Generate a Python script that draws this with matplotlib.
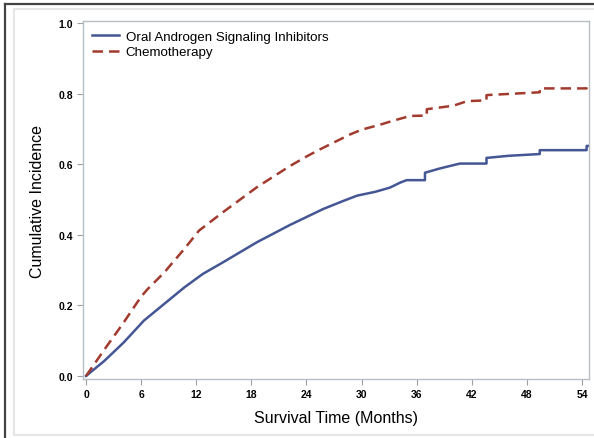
import matplotlib
matplotlib.use("Agg")
import matplotlib.pyplot as plt
from matplotlib.lines import Line2D

plt.rcParams['font.family'] = ['Liberation Sans', 'DejaVu Sans']

# Data
oasi_t = [0, 2.0, 4.1, 6.3, 8.5, 10.7, 12.7, 14.9, 18.6, 22.2, 25.8, 28.0, 29.5, 31.5, 33.1,
          34.2, 34.9, 36.9, 36.9, 38.5, 40.7, 43.6, 43.6, 46.0, 49.4, 49.4, 54.5, 54.5, 54.7]
oasi_v = [0, 0.043, 0.095, 0.157, 0.204, 0.251, 0.289, 0.322, 0.379, 0.428, 0.473, 0.496, 0.511, 0.522, 0.534,
          0.548, 0.555, 0.555, 0.576, 0.588, 0.602, 0.602, 0.618, 0.624, 0.629, 0.640, 0.640, 0.652, 0.652]

chemo_t = [0, 2.0, 4.0, 6.0, 6.7, 8.5, 10.7, 12.3, 14.9, 18.6, 22.2, 24.0, 25.3, 27.0, 28.7, 30.0,
           32.0, 33.5, 35.3, 37.1, 37.1, 40.0, 41.5, 43.6, 43.6, 46.5, 49.4, 49.4, 54.5, 54.5, 54.7]
chemo_v = [0, 0.075, 0.148, 0.225, 0.246, 0.293, 0.360, 0.412, 0.464, 0.535, 0.595, 0.622, 0.640, 0.662,
           0.684, 0.698, 0.712, 0.724, 0.737, 0.738, 0.756, 0.766, 0.779, 0.781, 0.796, 0.800, 0.804, 0.815,
           0.815, 0.824, 0.824]

series_labels = ["Oral Androgen Signaling Inhibitors", "Chemotherapy"]
x_ticks = [0, 6, 12, 18, 24, 30, 36, 42, 48, 54]
y_ticks = [0.0, 0.2, 0.4, 0.6, 0.8, 1.0]

blue = "#445694"
red = "#A23A2E"

fig = plt.figure(figsize=(5.94, 4.39), dpi=100)

# Outer frame decorations
W, H = 594, 439
def fx(px): return px / W
def fy(py): return 1 - py / H
fig.add_artist(Line2D([fx(5), 1], [fy(5), fy(5)], color="#444444", lw=1.6))
fig.add_artist(Line2D([fx(5), fx(5)], [fy(5), 0], color="#444444", lw=1.6))
fig.add_artist(Line2D([fx(14), 1], [fy(10), fy(10)], color="#e4e6e8", lw=1.5))
fig.add_artist(Line2D([fx(14), fx(14)], [fy(10), fy(436)], color="#e4e6e8", lw=1.5))
fig.add_artist(Line2D([fx(14), 1], [fy(436), fy(436)], color="#e4e6e8", lw=1.5))

ax = fig.add_axes([83 / W, 1 - 380 / H, (589 - 83) / W, (380 - 22) / H])

ax.plot(oasi_t, oasi_v, color=blue, lw=1.8, label=series_labels[0])
ax.plot(chemo_t, chemo_v, color=red, lw=1.8, ls=(0, (4.2, 2.4)), label=series_labels[1])

ax.set_xlim(-0.33, 54.76)
ax.set_ylim(-0.0085, 1.006)
ax.set_xticks(x_ticks)
ax.set_yticks(y_ticks)
ax.set_xticklabels([str(t) for t in x_ticks])
ax.set_yticklabels([f"{v:.1f}" for v in y_ticks])

for s in ax.spines.values():
    s.set_color("#b8bec2")
    s.set_linewidth(1.0)
ax.tick_params(axis='both', direction='out', length=4, width=0.8, color="#9aa0a4",
               labelsize=7.5, pad=3)
for lab in ax.get_xticklabels() + ax.get_yticklabels():
    lab.set_fontweight('bold')

ax.set_xlabel("Survival Time (Months)", fontsize=11.5, labelpad=8)
ax.set_ylabel("Cumulative Incidence", fontsize=11.5, labelpad=10)

leg = ax.legend(loc='upper left', frameon=False, fontsize=9.6, handlelength=2.0,
                handletextpad=0.5, borderaxespad=0.3, labelspacing=0.25,
                bbox_to_anchor=(0.0, 1.0))

fig.savefig("out.png", dpi=100)
